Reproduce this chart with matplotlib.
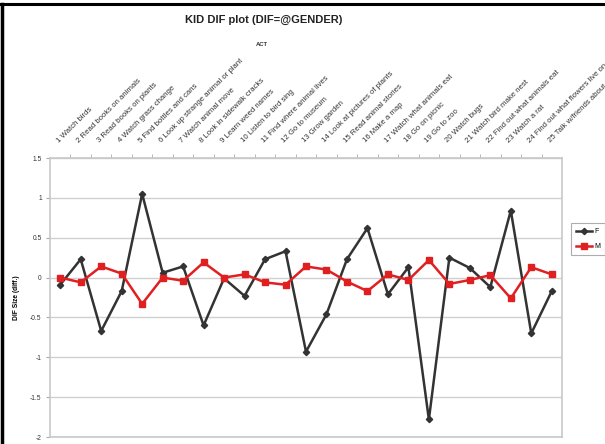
import numpy as np
import matplotlib.pyplot as plt
from matplotlib.lines import Line2D

plt.rcParams['font.family'] = ['Liberation Sans', 'DejaVu Sans']

items = [
    "1 Watch birds", "2 Read books on animals", "3 Read books on plants",
    "4 Watch grass change", "5 Find bottles and cans",
    "6 Look up strange animal or plant", "7 Watch animal move",
    "8 Look in sidewalk cracks", "9 Learn weed names", "10 Listen to bird sing",
    "11 Find where animal lives", "12 Go to museum", "13 Grow garden",
    "14 Look at pictures of plants", "15 Read animal stories", "16 Make a map",
    "17 Watch what animals eat", "18 Go on picnic", "19 Go to zoo",
    "20 Watch bugs", "21 Watch bird make nest", "22 Find out what animals eat",
    "23 Watch a rat", "24 Find out what flowers live on",
    "25 Talk w/friends about plants",
]
dif_f = [-0.09, 0.23, -0.67, -0.17, 1.05, 0.06, 0.14, -0.60, -0.01, -0.23,
         0.23, 0.33, -0.93, -0.46, 0.23, 0.62, -0.21, 0.13, -1.78, 0.25,
         0.12, -0.12, 0.84, -0.70, -0.17]
dif_m = [0.00, -0.06, 0.14, 0.05, -0.33, 0.00, -0.04, 0.19, 0.00, 0.04,
         -0.06, -0.09, 0.14, 0.10, -0.05, -0.17, 0.04, -0.03, 0.22, -0.08,
         -0.03, 0.03, -0.26, 0.13, 0.04]
yticks = [-2, -1.5, -1, -0.5, 0, 0.5, 1, 1.5]

W, H = 605, 444
fig = plt.figure(figsize=(W / 100, H / 100), dpi=100)
ax = fig.add_axes([50 / W, 1 - 437 / H, 512 / W, 279 / H])

x = np.arange(1, len(items) + 1)
ax.plot(x, dif_f, color='#333333', lw=1.8, marker='D', ms=3.2, label='F', zorder=3)
ax.plot(x, dif_m, color='#e02020', lw=1.8, marker='s', ms=4, label='M', zorder=4)

ax.set_xlim(0.5, len(items) + 0.5)
ax.set_ylim(-2, 1.5)
ax.set_yticks(yticks)
ax.set_yticklabels([f"{v:g}" for v in yticks], fontsize=4.8, color='#333333')
ax.yaxis.grid(True, color='#d0d0d0', lw=1)
ax.set_axisbelow(True)

ax.xaxis.tick_top()
ax.set_xticks(x)
ax.set_xticklabels(items, rotation=45, ha='left', va='bottom',
                   rotation_mode='anchor', fontsize=5.6, color='#333333')
ax.set_xticks(x[:-1] + 0.5, minor=True)
ax.tick_params(axis='x', which='major', length=0, pad=10)
ax.tick_params(axis='x', which='minor', length=3, color='#aaaaaa', top=True, bottom=False)
ax.tick_params(axis='y', length=3, color='#aaaaaa', pad=3)

for s in ax.spines.values():
    s.set_color('#c8c8c8')
    s.set_linewidth(1.2)

ax.set_ylabel("DIF Size (diff.)", fontsize=4.8, fontweight='bold', labelpad=7)

fig.text(264 / W, 1 - 20 / H, "KID DIF plot (DIF=@GENDER)", ha='center', va='center',
         fontsize=8, fontweight='bold', color='#222222')
fig.text(262 / W, 1 - 44 / H, "ACT", ha='center', va='center',
         fontsize=4.2, fontweight='bold', color='#333333')

leg = fig.legend(loc='upper left', bbox_to_anchor=(568 / W, 1 - 220 / H),
                 fontsize=5, handlelength=2.2, frameon=True, fancybox=False,
                 borderpad=0.7, labelspacing=1.1, handletextpad=0.4)
leg.get_frame().set_edgecolor('#999999')
leg.get_frame().set_linewidth(0.8)

# screenshot border
fig.add_artist(Line2D([0, 1], [1 - 4 / H, 1 - 4 / H], color='black', lw=2.2))
fig.add_artist(Line2D([2 / W, 2 / W], [0, 1 - 4 / H], color='black', lw=2.5))

fig.savefig("out.png", dpi=100)
